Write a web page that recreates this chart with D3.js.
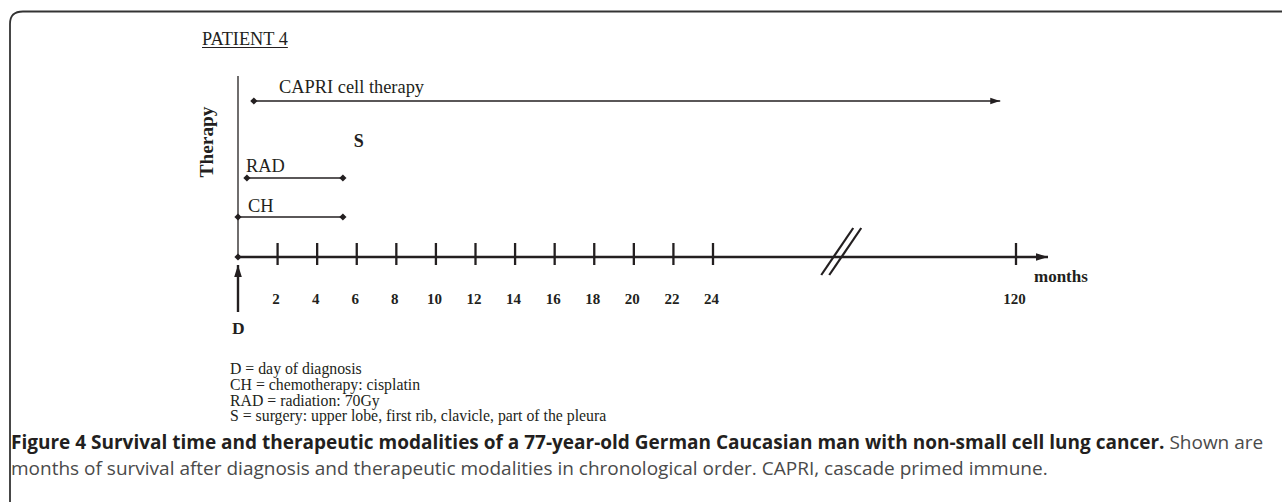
<!DOCTYPE html>
<html><head><meta charset="utf-8">
<script src="https://cdn.jsdelivr.net/npm/d3@7"></script>
<style>
html,body{margin:0;padding:0;background:#fff;}
svg{display:block;}
</style></head>
<body>
<svg id="chart" width="1282" height="502"></svg>
<script>
// ---- data ----
const title = "PATIENT 4";
const tickMonths = [2,4,6,8,10,12,14,16,18,20,22,24,120];
const tickLabels = ["2","4","6","8","10","12","14","16","18","20","22","24","120"];
const therapyNames = ["CAPRI cell therapy","RAD","CH"];
const therapyStart = [0.8, 0.45, 0];
const therapyEnd   = [115, 5.3, 5.3];
const therapyOpenEnded = [true, false, false];
const surgeryLabel = "S";
const surgeryMonth = 5.85;
const axisEndMonth = 130;
const breakMonth = 64;
const legendLines = [
  "D = day of diagnosis",
  "CH = chemotherapy: cisplatin",
  "RAD = radiation: 70Gy",
  "S = surgery: upper lobe, first rib, clavicle, part of the pleura"
];
const captionBold = "Figure 4 Survival time and therapeutic modalities of a 77-year-old German Caucasian man with non-small cell lung cancer.";
const captionRest1 = " Shown are";
const captionLine2 = "months of survival after diagnosis and therapeutic modalities in chronological order. CAPRI, cascade primed immune.";

// ---- layout ----
const svg = d3.select("#chart");
const serif = "'Liberation Serif', 'Times New Roman', serif";
const sans = "'Open Sans', 'Noto Sans', sans-serif";
const ink = "#231f20";

// broken time scale: uniform up to 24 months, compressed after the break
const x = d3.scaleLinear().domain([0, 24, 120, 130]).range([238, 713, 1016, 1048]);
const axisY = 257;
const rowY = d3.scaleOrdinal().domain(therapyNames).range([101, 178, 217]);

// frame
svg.append("path")
  .attr("d", "M10,520 L10,24 Q10,11.5 23,11.5 L1300,11.5")
  .attr("fill","none").attr("stroke","#333").attr("stroke-width",1.8);

const defs = svg.append("defs");
function mk(id, w){
  defs.append("marker").attr("id",id).attr("viewBox","0 0 10 10")
    .attr("refX",10).attr("refY",5).attr("markerWidth",w).attr("markerHeight",w)
    .attr("markerUnits","userSpaceOnUse").attr("orient","auto")
    .append("path").attr("d","M0,1.8 L10,5 L0,8.2 Z").attr("fill",ink);
}
mk("arr",10); mk("arrBig",12);

function diamond(cx, cy, r=3.6){
  svg.append("path").attr("d",`M${cx},${cy-r} L${cx+r},${cy} L${cx},${cy+r} L${cx-r},${cy} Z`).attr("fill",ink);
}

// title
const t = svg.append("text").attr("x",202).attr("y",45).attr("font-family",serif)
  .attr("font-size",18.3).attr("fill",ink).text(title);
const tw = t.node().getComputedTextLength();
svg.append("line").attr("x1",202).attr("x2",202+tw).attr("y1",47.5).attr("y2",47.5)
  .attr("stroke",ink).attr("stroke-width",1.1);

// vertical therapy axis
svg.append("line").attr("x1",x(0)).attr("x2",x(0)).attr("y1",76).attr("y2",axisY)
  .attr("stroke",ink).attr("stroke-width",1.3);
svg.append("text").attr("transform",`translate(213,142) rotate(-90)`)
  .attr("text-anchor","middle").attr("font-family",serif).attr("font-weight","bold")
  .attr("font-size",19.4).attr("fill",ink).text("Therapy");

// therapy bars
therapyNames.forEach((name,i)=>{
  const yy = rowY(name);
  const x1 = x(therapyStart[i]), x2 = x(therapyEnd[i]);
  const ln = svg.append("line").attr("x1",x1).attr("x2",x2).attr("y1",yy).attr("y2",yy)
    .attr("stroke",ink).attr("stroke-width",1.6);
  diamond(x1,yy);
  if(therapyOpenEnded[i]) ln.attr("marker-end","url(#arr)");
  else diamond(x2,yy);
});
const labelPos = [[279,93],[246,172],[248,212]];
therapyNames.forEach((name,i)=>{
  svg.append("text").attr("x",labelPos[i][0]).attr("y",labelPos[i][1]).attr("font-family",serif)
    .attr("font-size",18.4).attr("fill",ink).text(name);
});
svg.append("text").attr("x",x(surgeryMonth)).attr("y",147).attr("font-family",serif)
  .attr("font-weight","bold").attr("font-size",18).attr("fill",ink).text(surgeryLabel);

// time axis
svg.append("line").attr("x1",x(0)).attr("x2",x(axisEndMonth)).attr("y1",axisY).attr("y2",axisY)
  .attr("stroke",ink).attr("stroke-width",2.6).attr("marker-end","url(#arrBig)");
diamond(x(0),axisY,3.6);
const ticks = svg.append("g");
tickMonths.forEach((m,i)=>{
  ticks.append("line").attr("x1",x(m)).attr("x2",x(m)).attr("y1",axisY-14).attr("y2",axisY+8)
    .attr("stroke",ink).attr("stroke-width",2.3);
  ticks.append("text").attr("x",x(m)-1.5).attr("y",304).attr("text-anchor","middle")
    .attr("font-family",serif).attr("font-weight","bold").attr("font-size",15)
    .attr("fill",ink).text(tickLabels[i]);
});
// break marks
[0,8].forEach(dx=>{
  const bx = x(breakMonth) + dx;
  svg.append("line").attr("x1",bx-18).attr("y1",275).attr("x2",bx+14).attr("y2",228)
    .attr("stroke",ink).attr("stroke-width",2.2);
});
svg.append("text").attr("x",x(120)+18).attr("y",282).attr("font-family",serif).attr("font-weight","bold")
  .attr("font-size",17).attr("fill",ink).text("months");

// diagnosis arrow
svg.append("line").attr("x1",x(0)).attr("x2",x(0)).attr("y1",312).attr("y2",265)
  .attr("stroke",ink).attr("stroke-width",2.4).attr("marker-end","url(#arrBig)");
svg.append("text").attr("x",x(0)-6).attr("y",334).attr("font-family",serif).attr("font-weight","bold")
  .attr("font-size",17.5).attr("fill",ink).text("D");

// legend
legendLines.forEach((s,i)=>{
  svg.append("text").attr("x",230).attr("y",374+i*15.8).attr("font-family",serif)
    .attr("font-size",15.8).attr("fill",ink).text(s);
});

// caption
const cap = svg.append("text").attr("x",11).attr("y",449).attr("font-family",sans)
  .attr("font-size",19).attr("fill",ink);
cap.append("tspan").attr("font-weight","bold").text(captionBold);
cap.append("tspan").attr("fill","#4a4a4a").text(captionRest1);
svg.append("text").attr("x",11).attr("y",475).attr("font-family",sans)
  .attr("font-size",19).attr("fill","#4a4a4a").text(captionLine2);
</script>
</body></html>
